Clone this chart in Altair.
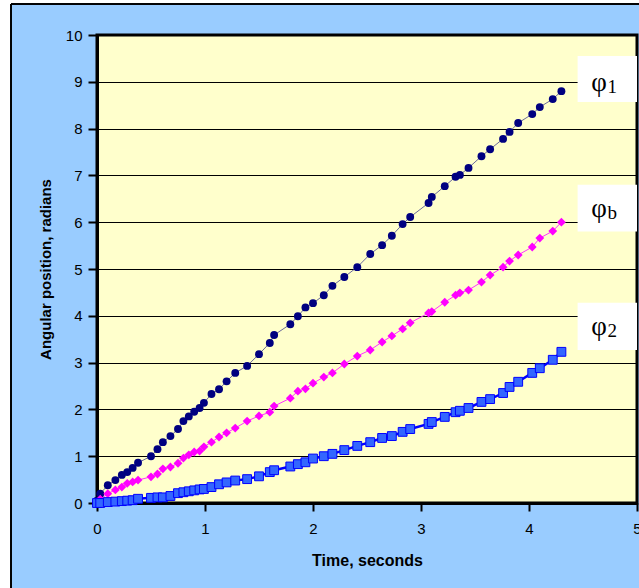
import altair as alt
import pandas as pd

# ---- data ----
time_s = [0, 0.03, 0.1, 0.17, 0.23, 0.28, 0.33, 0.38, 0.5, 0.56, 0.61, 0.68, 0.75, 0.8,
          0.85, 0.9, 0.95, 0.99, 1.06, 1.13, 1.2, 1.28, 1.39, 1.5, 1.6, 1.64, 1.79, 1.86,
          1.93, 2.0, 2.1, 2.18, 2.29, 2.41, 2.53, 2.64, 2.73, 2.83, 2.9, 3.07, 3.1, 3.22,
          3.32, 3.36, 3.44, 3.56, 3.64, 3.76, 3.82, 3.9, 4.03, 4.1, 4.22, 4.3]

phi_1 = [0.05, 0.2, 0.38, 0.49, 0.6, 0.66, 0.75, 0.86, 1.0, 1.15, 1.3, 1.43, 1.58, 1.75,
         1.85, 1.95, 2.03, 2.14, 2.33, 2.43, 2.6, 2.78, 2.93, 3.18, 3.42, 3.59, 3.82, 3.99,
         4.18, 4.27, 4.44, 4.64, 4.83, 5.04, 5.32, 5.51, 5.71, 5.96, 6.11, 6.41, 6.54, 6.77,
         6.97, 7.01, 7.16, 7.41, 7.56, 7.78, 7.93, 8.12, 8.31, 8.46, 8.63, 8.8]

phi_b = [0.0, 0.08, 0.2, 0.28, 0.34, 0.42, 0.45, 0.49, 0.56, 0.62, 0.73, 0.77, 0.85, 0.96,
         1.03, 1.09, 1.11, 1.2, 1.3, 1.41, 1.5, 1.6, 1.75, 1.86, 1.94, 2.07, 2.24, 2.39,
         2.44, 2.56, 2.69, 2.78, 2.97, 3.14, 3.27, 3.44, 3.57, 3.72, 3.85, 4.06, 4.09, 4.29,
         4.44, 4.49, 4.55, 4.72, 4.87, 5.04, 5.17, 5.3, 5.47, 5.66, 5.81, 6.0]

phi_2 = [0.0, 0.0, 0.02, 0.03, 0.04, 0.05, 0.06, 0.09, 0.11, 0.12, 0.12, 0.15, 0.21, 0.23,
         0.25, 0.27, 0.29, 0.3, 0.34, 0.4, 0.44, 0.48, 0.51, 0.57, 0.66, 0.7, 0.78, 0.83,
         0.87, 0.95, 1.0, 1.05, 1.13, 1.22, 1.3, 1.39, 1.43, 1.52, 1.58, 1.69, 1.73, 1.84,
         1.94, 1.97, 2.03, 2.16, 2.22, 2.35, 2.48, 2.59, 2.78, 2.88, 3.06, 3.23]

x_ticks = [0, 1, 2, 3, 4, 5]
y_ticks = [0, 1, 2, 3, 4, 5, 6, 7, 8, 9, 10]

label_main = ["φ", "φ", "φ"]
label_sub = ["1", "b", "2"]
label_value = [8.8, 6.11, 3.59]      # baseline of the label text (radians)
box_top = [9.55, 6.8, 4.28]
box_bottom = [8.57, 5.8, 3.27]

# ---- tables ----
d1 = pd.DataFrame({"t": time_s, "v": phi_1})
db = pd.DataFrame({"t": time_s, "v": phi_b})
d2 = pd.DataFrame({"t": time_s, "v": phi_2})
labels = pd.DataFrame({"main": label_main, "sub": label_sub, "y": label_value,
                       "top": box_top, "bot": box_bottom,
                       "x0": [4.45] * 3, "x1": [5.0] * 3, "xm": [4.648] * 3, "xs": [4.728] * 3})

xs = alt.Scale(domain=[0, 5], nice=False, zero=False)
ys = alt.Scale(domain=[0, 10], nice=False, zero=False)

x_axis = alt.Axis(values=x_ticks, format="d", grid=False, domainColor="black", domainWidth=3,
                  tickColor="black", tickWidth=2, tickSize=8, labelPadding=10, labelFlush=False,
                  labelFont="Liberation Sans", labelFontSize=15, labelColor="black",
                  title="Time, seconds", titleFont="Liberation Sans", titleFontSize=16,
                  titleFontWeight="bold", titleColor="black", titleX=270, titleY=57,
                  titleBaseline="middle", titleAlign="center")
y_axis = alt.Axis(values=y_ticks, format="d", grid=True, gridColor="black", gridWidth=1,
                  domainColor="black", domainWidth=3, tickColor="black", tickWidth=2,
                  tickSize=9, labelPadding=6, labelFlush=False, labelFont="Liberation Sans",
                  labelFontSize=15, labelColor="black", title="Angular position, radians",
                  titleFont="Liberation Sans", titleFontSize=15, titleFontWeight="bold",
                  titleColor="black", titleAngle=-90, titleX=-52, titleY=234,
                  titleBaseline="middle", titleAlign="center")

X = alt.X("t:Q", scale=xs, axis=x_axis)
Y = alt.Y("v:Q", scale=ys, axis=y_axis)

# ---- outer frame (white margin + black edge of the chart area) ----
frame_left = alt.Chart(labels).mark_rect(color="white").encode(
    x=alt.value(-97), x2=alt.value(-86), y=alt.value(-35), y2=alt.value(560))
frame_top = alt.Chart(labels).mark_rect(color="white").encode(
    x=alt.value(-97), x2=alt.value(545), y=alt.value(-35), y2=alt.value(-31))
edge_left = alt.Chart(labels).mark_rule(color="black", strokeWidth=1.5).encode(
    x=alt.value(-86), y=alt.value(-31), y2=alt.value(560))
edge_top = alt.Chart(labels).mark_rule(color="black", strokeWidth=1.5).encode(
    x=alt.value(-86), x2=alt.value(545), y=alt.value(-31))

# ---- series ----
line1 = alt.Chart(d1).mark_line(color="#6a6a9a", strokeWidth=1).encode(x=X, y=Y)
pts1 = alt.Chart(d1).mark_point(shape="circle", filled=True, color="#000080", size=62,
                                opacity=1).encode(x=X, y=Y)
lineb = alt.Chart(db).mark_line(color="#ff33ff", strokeWidth=1).encode(x=X, y=Y)
ptsb = alt.Chart(db).mark_point(shape="diamond", filled=True, color="#ff00ff", size=78,
                                opacity=1).encode(x=X, y=Y)
line2 = alt.Chart(d2).mark_line(color="#0000ff", strokeWidth=2.5).encode(x=X, y=Y)
pts2 = alt.Chart(d2).mark_point(shape="square", filled=True, fill="#3366ff", stroke="#0000ff",
                                strokeWidth=1, size=78, opacity=1).encode(x=X, y=Y)

# ---- labels ----
boxes = alt.Chart(labels).mark_rect(color="white").encode(
    x=alt.X("x0:Q", scale=xs), x2="x1:Q", y=alt.Y("top:Q", scale=ys), y2="bot:Q")
main_txt = alt.Chart(labels).mark_text(font="Liberation Serif", fontSize=27, color="black",
                                       align="center", baseline="alphabetic").encode(
    x=alt.X("xm:Q", scale=xs), y=alt.Y("y:Q", scale=ys), text="main:N")
sub_txt = alt.Chart(labels).mark_text(font="Liberation Serif", fontSize=19, color="black",
                                      align="left", baseline="alphabetic", dy=2).encode(
    x=alt.X("xs:Q", scale=xs), y=alt.Y("y:Q", scale=ys), text="sub:N")

chart = alt.layer(
    line1, lineb, line2, pts1, ptsb, pts2, boxes, main_txt, sub_txt,
    frame_left, frame_top, edge_left, edge_top
).properties(
    width=540, height=468,
    padding={"left": 97, "top": 35, "right": 2, "bottom": 85},
    autosize=alt.AutoSizeParams(type="none"),
    background="#99ccff",
).configure_view(
    fill="#ffffcc", stroke="black", strokeWidth=3
)

chart.save("out.html", embed_options={"renderer": "svg", "actions": False})
